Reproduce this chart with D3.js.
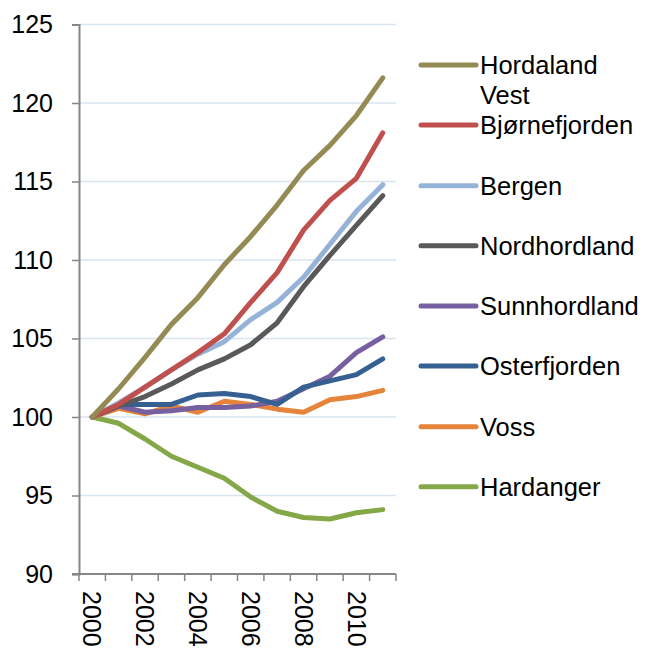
<!DOCTYPE html>
<html>
<head>
<meta charset="utf-8">
<script src="https://cdn.jsdelivr.net/npm/d3@7"></script>
<style>
  body { margin: 0; background: #fff; }
  svg { display: block; font-family: "Liberation Sans", Arial, sans-serif; }
</style>
</head>
<body>
<div id="chart"></div>
<script>
// years on the x axis
var years = [2000, 2001, 2002, 2003, 2004, 2005, 2006, 2007, 2008, 2009, 2010, 2011];
var yTicks = [90, 95, 100, 105, 110, 115, 120, 125];

// index values (2000 = 100)
var hordalandVest = [100, 101.8, 103.8, 105.9, 107.6, 109.7, 111.5, 113.5, 115.7, 117.3, 119.2, 121.6];
var bjornefjorden = [100, 100.8, 101.9, 103.0, 104.1, 105.3, 107.3, 109.2, 111.9, 113.8, 115.2, 118.1];
var bergen        = [100, 100.9, 101.9, 103.0, 104.0, 104.8, 106.2, 107.3, 108.9, 111.0, 113.1, 114.8];
var nordhordland  = [100, 100.7, 101.3, 102.1, 103.0, 103.7, 104.6, 106.0, 108.3, 110.3, 112.2, 114.1];
var sunnhordland  = [100, 100.7, 100.3, 100.4, 100.6, 100.6, 100.7, 101.0, 101.8, 102.6, 104.1, 105.1];
var osterfjorden  = [100, 100.8, 100.8, 100.8, 101.4, 101.5, 101.3, 100.8, 101.9, 102.3, 102.7, 103.7];
var voss          = [100, 100.55, 100.2, 100.7, 100.3, 101.0, 100.8, 100.5, 100.3, 101.1, 101.3, 101.7];
var hardanger     = [100, 99.6, 98.6, 97.5, 96.8, 96.1, 94.9, 94.0, 93.6, 93.5, 93.9, 94.1];

var seriesNames = ["Hordaland Vest", "Bjørnefjorden", "Bergen", "Nordhordland", "Sunnhordland", "Osterfjorden", "Voss", "Hardanger"];
var seriesValues = [hordalandVest, bjornefjorden, bergen, nordhordland, sunnhordland, osterfjorden, voss, hardanger];
var seriesColors = ["#948A54", "#C0504D", "#95B3D7", "#595959", "#7660A0", "#376092", "#E5843A", "#84A848"];

// drawing order: bottom series first so the top ones sit above
var drawOrder = [7, 6, 4, 5, 3, 2, 1, 0];

var width = 648, height = 648;
var plot = {left: 79, right: 396, top: 24.5, bottom: 574};

var svg = d3.select("#chart").append("svg")
  .attr("width", width)
  .attr("height", height);

var x = d3.scaleBand()
  .domain(years)
  .range([plot.left, plot.right]);

var y = d3.scaleLinear()
  .domain([90, 125])
  .range([plot.bottom, plot.top]);

// horizontal gridlines
svg.append("g")
  .selectAll("line")
  .data(yTicks.filter(function(d) { return d > 90; }))
  .enter()
  .append("line")
  .attr("x1", plot.left)
  .attr("x2", plot.right)
  .attr("y1", function(d) { return y(d); })
  .attr("y2", function(d) { return y(d); })
  .attr("stroke", "#D9E4F1")
  .attr("stroke-width", 1.5);

// y axis
var yAxis = svg.append("g")
  .attr("transform", "translate(" + plot.left + ",0)")
  .call(d3.axisLeft(y).tickValues(yTicks).tickSize(7).tickPadding(19));
yAxis.select(".domain").attr("stroke", "#868686").attr("stroke-width", 2);
yAxis.selectAll(".tick line").attr("stroke", "#868686").attr("stroke-width", 1.5);
yAxis.selectAll(".tick text")
  .attr("fill", "#000")
  .style("font-size", "25px")
  .style("font-family", "'Liberation Sans', Arial, sans-serif");

// x axis: tick marks at band edges, labels every other year
var edges = years.map(function(d) { return x(d); }).concat([plot.right]);
svg.append("line")
  .attr("x1", plot.left - 7)
  .attr("x2", plot.right)
  .attr("y1", plot.bottom)
  .attr("y2", plot.bottom)
  .attr("stroke", "#868686")
  .attr("stroke-width", 2);
svg.append("g")
  .selectAll("line")
  .data(edges)
  .enter()
  .append("line")
  .attr("x1", function(d) { return d; })
  .attr("x2", function(d) { return d; })
  .attr("y1", plot.bottom)
  .attr("y2", plot.bottom + 7)
  .attr("stroke", "#868686")
  .attr("stroke-width", 1.5);

svg.append("g")
  .selectAll("text")
  .data(years.filter(function(d) { return d % 2 === 0; }))
  .enter()
  .append("text")
  .attr("transform", function(d) {
    return "translate(" + (x(d) + x.bandwidth() / 2) + "," + (plot.bottom + 17) + ") rotate(90)";
  })
  .attr("dy", "0.35em")
  .attr("text-anchor", "start")
  .style("font-size", "25px")
  .text(function(d) { return d; });

// lines
var line = d3.line()
  .x(function(d, i) { return x(years[i]) + x.bandwidth() / 2; })
  .y(function(d) { return y(d); });

drawOrder.forEach(function(k) {
  svg.append("path")
    .datum(seriesValues[k])
    .attr("d", line)
    .attr("fill", "none")
    .attr("stroke", seriesColors[k])
    .attr("stroke-width", 5)
    .attr("stroke-linejoin", "round")
    .attr("stroke-linecap", "round");
});

// legend
var legendRows = [65, 125, 185.7, 245.7, 306, 366, 426.7, 486.7];
var legend = svg.append("g");
seriesNames.forEach(function(name, k) {
  var ly = legendRows[k];
  legend.append("line")
    .attr("x1", 421)
    .attr("x2", 476)
    .attr("y1", ly)
    .attr("y2", ly)
    .attr("stroke", seriesColors[k])
    .attr("stroke-width", 5)
    .attr("stroke-linecap", "round");
  var t = legend.append("text")
    .attr("x", 480)
    .attr("y", ly)
    .attr("dy", "0.35em")
    .style("font-size", "25.5px");
  if (name === "Hordaland Vest") {
    t.append("tspan").attr("x", 480).text("Hordaland");
    t.append("tspan").attr("x", 480).attr("dy", 30).text("Vest");
  } else {
    t.text(name);
  }
});
</script>
</body>
</html>
